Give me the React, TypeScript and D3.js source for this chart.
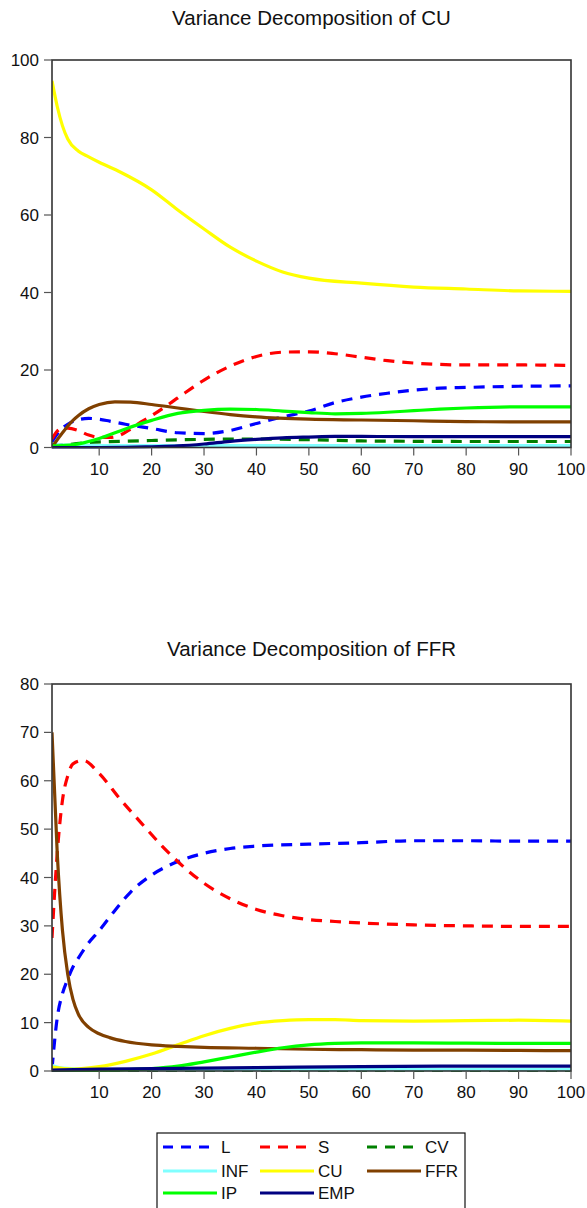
import React from "react";
import * as d3 from "d3";

type P = [number, number];

// ---------- Variance Decomposition of CU ----------
const cuL: P[] = [[1,1.5],[2,3.5],[3,5.0],[4,6.0],[6,7.2],[8,7.5],[10,7.3],[12,6.8],[15,6.0],[20,4.9],[25,3.8],[30,3.6],[35,4.4],[40,6.2],[45,7.9],[50,9.4],[55,11.6],[60,13.0],[65,14.0],[70,14.8],[75,15.3],[80,15.5],[90,15.8],[100,15.9]];
const cuS: P[] = [[1,2.2],[2,4.2],[3,5.0],[4,5.0],[6,4.4],[8,3.2],[10,2.6],[12,2.6],[14,3.2],[16,4.8],[18,6.6],[20,8.2],[25,12.8],[30,17.4],[35,21.0],[40,23.5],[45,24.6],[50,24.7],[55,24.2],[60,23.3],[65,22.4],[70,21.8],[80,21.3],[90,21.3],[100,21.2]];
const cuCV: P[] = [[1,0.4],[3,0.6],[5,0.9],[8,1.3],[12,1.5],[20,1.8],[30,2.1],[40,2.2],[50,2.0],[60,1.7],[70,1.6],[80,1.55],[100,1.55]];
const cuINF: P[] = [[1,0.9],[3,0.6],[10,0.5],[50,0.5],[100,0.5]];
const cuCU: P[] = [[1,94.6],[2,88],[3,83],[4,79.6],[6,76.5],[8,75.0],[10,73.6],[14,71.1],[20,66.5],[25,61.3],[30,56.4],[35,51.7],[40,48.1],[45,45.3],[50,43.7],[60,42.4],[70,41.4],[80,40.9],[90,40.4],[100,40.3]];
const cuFFR: P[] = [[1,0],[2,2.0],[3,3.8],[4,5.5],[5,7.0],[6,8.2],[8,10.0],[10,11.1],[13,11.8],[16,11.7],[20,11.1],[25,10.2],[30,9.3],[35,8.5],[40,7.9],[50,7.3],[60,7.1],[70,6.9],[80,6.7],[90,6.6],[100,6.6]];
const cuIP: P[] = [[1,0.4],[3,0.5],[5,0.7],[7,1.2],[10,2.3],[15,4.8],[20,7.0],[25,8.8],[30,9.6],[35,9.9],[40,9.8],[45,9.4],[50,9.0],[55,8.7],[60,8.8],[65,9.1],[70,9.5],[75,9.9],[80,10.2],[90,10.5],[100,10.5]];
const cuEMP: P[] = [[1,0],[10,0],[15,0.05],[20,0.2],[25,0.4],[30,0.9],[35,1.6],[40,2.1],[45,2.5],[50,2.7],[55,2.85],[60,2.85],[70,2.8],[80,2.8],[100,2.8]];

// ---------- Variance Decomposition of FFR ----------
const ffrL: P[] = [[1,0.5],[2,11],[3,16],[4,19],[5,21.5],[6,23.3],[8,26.5],[10,29],[13,33.2],[16,37],[20,40.5],[25,43.3],[30,45],[35,46],[40,46.5],[50,46.9],[60,47.2],[70,47.6],[80,47.6],[90,47.5],[100,47.5]];
const ffrS: P[] = [[1,27.5],[2,45],[3,56],[4,61],[5,63.5],[7,64.2],[10,61.5],[14,56.2],[18,51.3],[22,46.5],[26,42.3],[30,38.8],[35,35.6],[40,33.4],[45,32.1],[50,31.3],[55,30.9],[60,30.6],[70,30.2],[80,30.0],[90,29.9],[100,29.9]];
const ffrCV: P[] = [[1,0.05],[50,0.1],[100,0.1]];
const ffrINF: P[] = [[1,1.2],[3,0.6],[10,0.3],[100,0.3]];
const ffrCU: P[] = [[1,0.8],[5,0.4],[10,0.9],[15,2.0],[20,3.5],[25,5.4],[30,7.3],[35,8.8],[40,9.9],[45,10.4],[50,10.6],[55,10.6],[60,10.4],[70,10.3],[80,10.4],[90,10.5],[100,10.3]];
const ffrFFR: P[] = [[1,70],[2,45],[3,29],[4,20],[5,14.8],[6,11.8],[8,9.0],[10,7.7],[12,6.9],[15,6.1],[20,5.4],[25,5.1],[30,4.9],[40,4.7],[50,4.5],[60,4.4],[70,4.3],[80,4.3],[90,4.25],[100,4.2]];
const ffrIP: P[] = [[1,0.1],[10,0.1],[15,0.3],[20,0.5],[25,1.0],[30,1.9],[35,2.9],[40,3.9],[45,4.8],[50,5.4],[55,5.7],[60,5.8],[70,5.8],[80,5.75],[90,5.7],[100,5.7]];
const ffrEMP: P[] = [[1,0.2],[10,0.4],[20,0.5],[40,0.7],[60,0.9],[80,1.0],[100,1.0]];

const seriesNames = ["L", "S", "CV", "INF", "CU", "FFR", "IP", "EMP"];
const seriesColors = ["#0000ff", "#ff0000", "#008000", "#80ffff", "#ffff00", "#804000", "#00ff00", "#000080"];
const seriesDashed = [true, true, true, false, false, false, false, false];

const xTicks = [10, 20, 30, 40, 50, 60, 70, 80, 90, 100];
const cuYTicks = [0, 20, 40, 60, 80, 100];
const ffrYTicks = [0, 10, 20, 30, 40, 50, 60, 70, 80];

const FONT = "'Liberation Sans', Arial, sans-serif";

function Panel({ title, data, yMax, yTicks, top, bottom, titleY, id }: any) {
  const left = 52, right = 571;
  const x = d3.scaleLinear().domain([1, 100]).range([left, right]);
  const y = d3.scaleLinear().domain([0, yMax]).range([bottom, top]);
  const line = d3.line<P>().x(d => x(d[0])).y(d => y(d[1])).curve(d3.curveMonotoneX);
  return (
    <g>
      <text x={(left + right) / 2} y={titleY} textAnchor="middle" fontSize={20.5} fontFamily={FONT} fill="#111">{title}</text>
      <defs>
        <clipPath id={id}><rect x={left} y={top - 2} width={right - left} height={bottom - top + 3} /></clipPath>
      </defs>
      <g clipPath={`url(#${id})`}>
        {data.map((s: P[], i: number) => (
          <path key={i} d={line(s) || ""} fill="none" stroke={seriesColors[i]} strokeWidth={3.2}
            strokeDasharray={seriesDashed[i] ? "11,8" : undefined} />
        ))}
      </g>
      <rect x={left} y={top} width={right - left} height={bottom - top} fill="none" stroke="#333" strokeWidth={1.6} />
      {yTicks.map((t: number) => (
        <g key={t}>
          <line x1={left - 8} x2={left} y1={y(t)} y2={y(t)} stroke="#555" strokeWidth={1.2} />
          <text x={39} y={y(t) + 6} textAnchor="end" fontSize={17} fontFamily={FONT} fill="#111">{t}</text>
        </g>
      ))}
      {xTicks.map(t => (
        <g key={t}>
          <line x1={x(t)} x2={x(t)} y1={bottom} y2={bottom + 8} stroke="#555" strokeWidth={1.2} />
          <text x={x(t)} y={bottom + 27} textAnchor="middle" fontSize={17} fontFamily={FONT} fill="#111">{t}</text>
        </g>
      ))}
    </g>
  );
}

export default function App() {
  const legendCols = [163, 260, 367];
  const legendRows = [1147, 1171, 1193];
  return (
    <svg width={587} height={1208} style={{ position: "fixed", left: 0, top: 0, background: "#fff" }}>
      <rect x={0} y={0} width={587} height={1208} fill="#fff" />
      <Panel id="clipCU" title="Variance Decomposition of CU" titleY={25} top={60} bottom={447.5} yMax={100} yTicks={cuYTicks}
        data={[cuL, cuS, cuCV, cuINF, cuCU, cuFFR, cuIP, cuEMP]} />
      <Panel id="clipFFR" title="Variance Decomposition of FFR" titleY={656} top={684} bottom={1071} yMax={80} yTicks={ffrYTicks}
        data={[ffrL, ffrS, ffrCV, ffrINF, ffrCU, ffrFFR, ffrIP, ffrEMP]} />
      <rect x={157} y={1133} width={308} height={90} fill="#fff" stroke="#111" strokeWidth={1.2} />
      {seriesNames.map((n, i) => {
        const cx = legendCols[i % 3];
        const cy = legendRows[Math.floor(i / 3)];
        return (
          <g key={n}>
            <line x1={cx} x2={cx + 54} y1={cy} y2={cy} stroke={seriesColors[i]} strokeWidth={3.2}
              strokeDasharray={seriesDashed[i] ? "10,8" : undefined} />
            <text x={cx + 58} y={cy + 6} fontSize={17} fontFamily={FONT} fill="#111">{n}</text>
          </g>
        );
      })}
    </svg>
  );
}
